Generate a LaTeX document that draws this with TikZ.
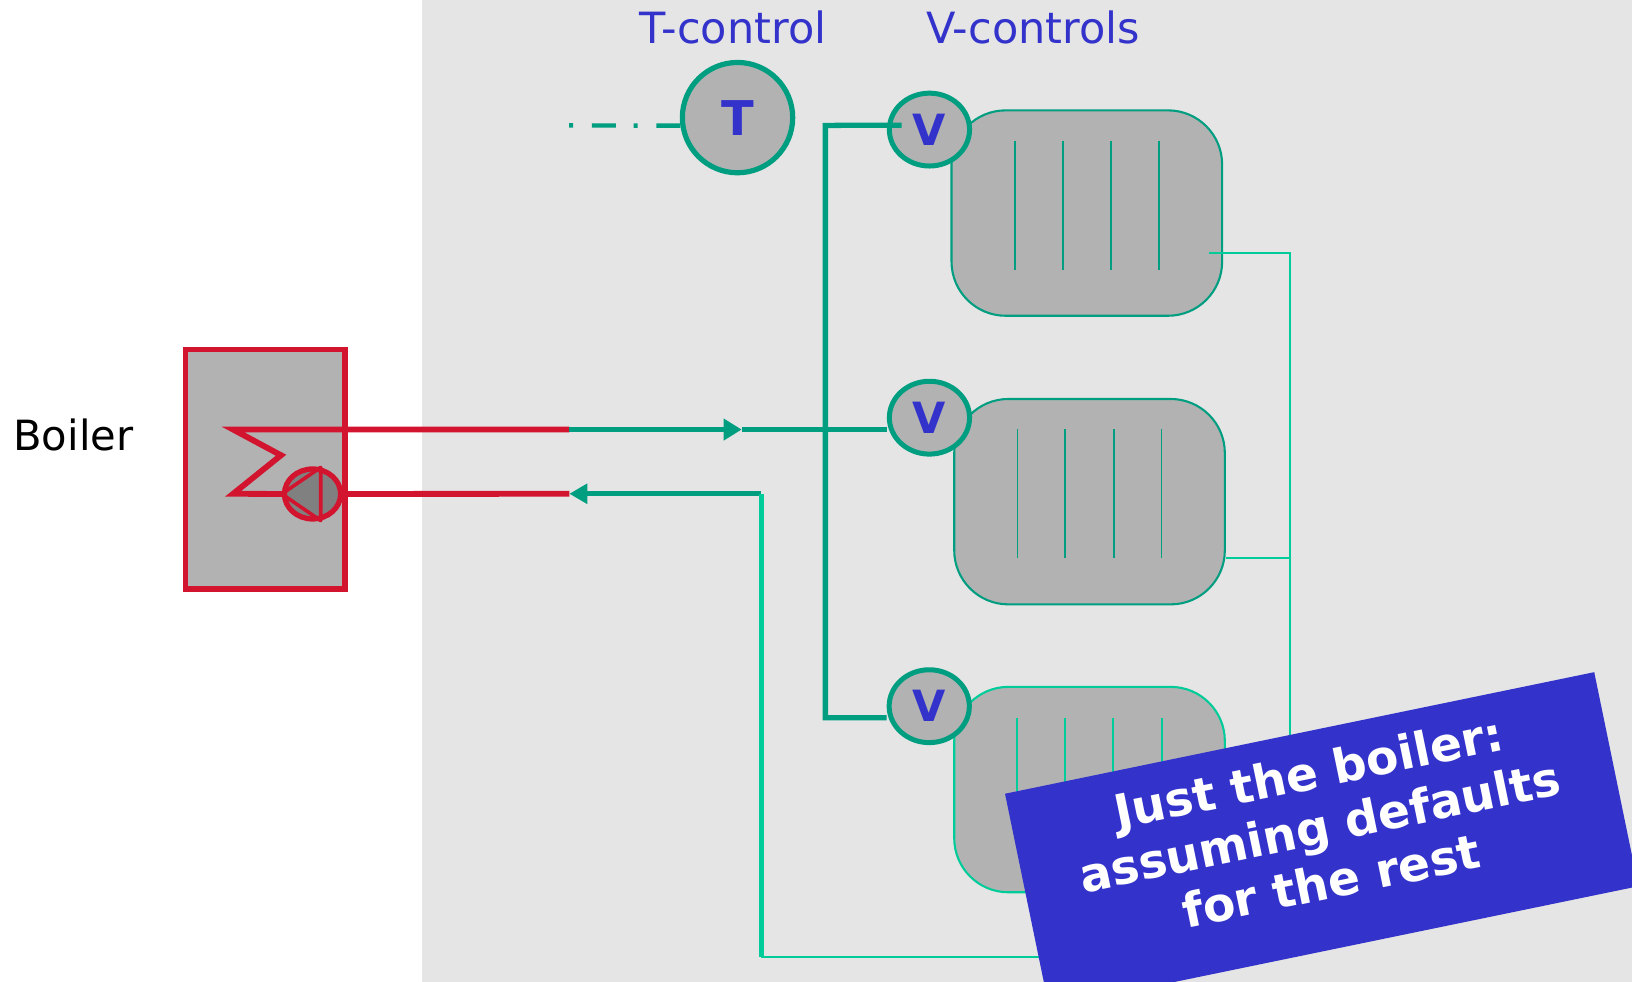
\documentclass[tikz,border=0pt]{standalone}
\usepackage{fontspec}
\setmainfont{DejaVu Sans}
\usetikzlibrary{shapes.geometric,arrows.meta}

\definecolor{bggray}{RGB}{229,229,229}
\definecolor{boxgray}{RGB}{178,178,178}
\definecolor{pumpgray}{RGB}{128,128,128}
\definecolor{boilred}{RGB}{210,20,47}
\definecolor{tealdark}{RGB}{0,158,128}
\definecolor{teallight}{RGB}{0,204,153}
\definecolor{ctlblue}{RGB}{51,51,204}

\tikzset{every picture/.style={line width=0.75pt}}

\begin{document}
\begin{tikzpicture}[x=0.75pt,y=0.75pt,yscale=-1,xscale=1,
	hot/.style={draw=boilred,line width=4.2pt},
	feed/.style={draw=tealdark,line width=3.8pt},
	retmid/.style={draw=teallight,line width=3.4pt},
	retthin/.style={draw=teallight,line width=1.5pt},
	signal/.style={draw=tealdark,line width=3.2pt,dash pattern=on 3pt off 13.5pt on 17.3pt off 12.7pt},
	lbl/.style={text=ctlblue,font=\fontsize{31}{36}\selectfont},
	valve/.style={ellipse,draw=tealdark,line width=3.6pt,fill=boxgray,minimum width=57.8pt,minimum height=52.5pt,inner sep=0pt,text=ctlblue,font=\bfseries\fontsize{31}{31}\selectfont},
	radiator/.style={rectangle,rounded corners=39pt,draw=tealdark,line width=1.5pt,fill=boxgray,minimum width=195pt,minimum height=148pt},
	fin/.style={draw=tealdark,line width=1.3pt}]
	\useasboundingbox (0,0) rectangle (1568,943);

	%Shape: Rectangle [background]
	\fill[white] (0,0) rectangle (1568,943);
	\fill[bggray] (405,0) rectangle (1568,943);

	% Text Node
	\node[lbl] (tctllbl) at (704,26) {T-control};
	% Text Node
	\node[lbl] (vctllbl) at (992.5,26) {V-controls};
	% Text Node
	\node[font=\fontsize{30}{36}\selectfont] (boilerlbl) at (70.5,418) {Boiler};

	%Shape: Rectangle [boiler]
	\node[rectangle,draw=boilred,line width=4pt,fill=boxgray,minimum width=115pt,minimum height=172.5pt] (boiler) at (254.9,451) {};
	%Shape: Circle [pump]
	\node[ellipse,draw=boilred,line width=3.8pt,fill=pumpgray,minimum width=40.5pt,minimum height=36pt,inner sep=0pt] (pump) at (300.3,474.6) {};
	\draw[boilred,line width=2.6pt,line join=round] (pump.west) -- (pump.73) -- (pump.-73) -- cycle;

	%Shape: Circle [T-control]
	\node[circle,draw=tealdark,line width=3.75pt,fill=boxgray,minimum size=79.5pt,inner sep=0pt,text=ctlblue,font=\bfseries\fontsize{34.5}{34.5}\selectfont] (tctl) at (708.6,113) {T};

	%Shape: Radiators
	\node[radiator] (rad1) at (1044.2,204.7) {};
	\node[radiator] (rad2) at (1046.8,482) {};
	\node[radiator,draw=teallight] (rad3) at (1046.8,758.6) {};
	\draw[fin] (975,135) -- (975,259.5) (1021,135) -- (1021,259.5) (1067.2,135) -- (1067.2,259.5) (1113.3,135) -- (1113.3,259.5);
	\draw[fin] (977.6,412.4) -- (977.6,536.1) (1023.6,412.4) -- (1023.6,536.1) (1070,412.4) -- (1070,536.1) (1115.9,412.4) -- (1115.9,536.1);
	\draw[fin,teallight] (976.8,689.5) -- (976.8,814) (1023.2,689.5) -- (1023.2,814) (1069.6,689.5) -- (1069.6,814) (1116.2,689.5) -- (1116.2,814);

	%Shape: Circle [valves]
	\node[valve] (vtop) at (893,124.5) {V};
	\node[valve] (vmid) at (893,401.3) {V};
	\node[valve] (vbot) at (892.8,678.5) {V};

	% Coordinates of the pipe corners
	\coordinate (hx) at (224,412.7);
	\coordinate (hz) at (270,437.4);
	\coordinate (hy) at (224,474.4);
	\coordinate (sj) at (547,412.7);
	\coordinate (sarr) at (712.6,412.7);
	\coordinate (rj) at (547,474.4);
	\coordinate (lret) at (731.5,474.4);
	\coordinate (lbot) at (731.5,919.5);
	\coordinate (rbot) at (1239.5,919.5);
	\coordinate (rtop) at (1239.5,243.5);
	\coordinate (rmid) at (1239.5,536);
	\coordinate (r1out) at (1162,243.5);
	\coordinate (ftop) at (793,120.5);
	\coordinate (fbot) at (793,689.5);
	\coordinate (tsrc) at (546.7,120.5);

	%Straight Lines [boiler circuit]
	\draw[hot,line join=miter] (sj) -- (hx) -- (hz) -- (hy) -- (pump.west);
	\draw[hot] (pump.east) -- (rj);
	%Straight Lines [supply]
	\draw[feed,-{Triangle[length=13pt,width=15pt]}] (sj) -- (sarr);
	\draw[feed] (sarr) -- (sarr -| vmid.west);
	\draw[feed] (vtop.174) ++(14,0) -- (ftop) -- (fbot) -- (fbot -| vbot.west);
	%Straight Lines [return]
	\draw[feed,-{Triangle[length=13pt,width=14pt]}] (lret) -- (rj);
	\draw[retmid] (lret) -- (lbot);
	\draw[retthin] (lbot) -- (rbot) -- (rtop) -- (r1out);
	\draw[retthin] (rmid) -- (rmid -| rad2.east);
	%Straight Lines [signal]
	\draw[signal] (tsrc) -- (tctl.188);

	%Shape: Banner
	\begin{scope}
		\clip (0,0) rectangle (1568,943);
		\fill[ctlblue] (965.6,762.6) -- (1531.7,645.8) -- (1574.1,851.5) -- (1008,968.3) -- cycle;
	\end{scope}
	% Text Node
	\node[rotate=11.66,align=center,text=white,font=\bfseries\fontsize{34}{40}\selectfont] (note) at (1268,794) {Just the boiler:\\assuming defaults\\for the rest};
\end{tikzpicture}
\end{document}
